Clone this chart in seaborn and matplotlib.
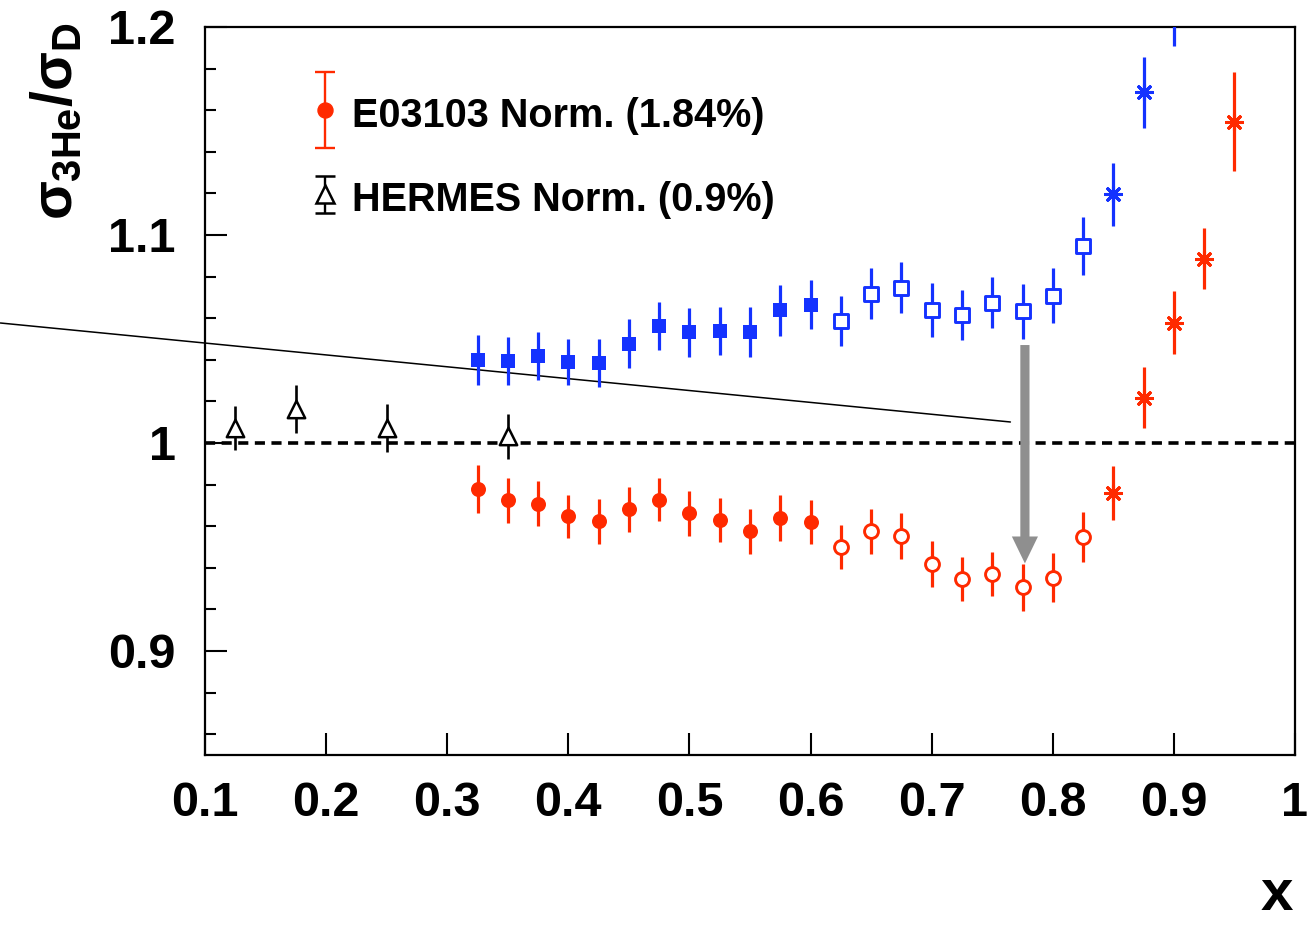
import numpy as np
import pandas as pd
import matplotlib
matplotlib.use("Agg")
import matplotlib.pyplot as plt
from matplotlib.ticker import MultipleLocator, FixedLocator, FuncFormatter
import seaborn as sns

# ---- data -------------------------------------------------------------
x_e03103 = [0.325, 0.35, 0.375, 0.40, 0.425, 0.45, 0.475, 0.50, 0.525, 0.55,
            0.575, 0.60, 0.625, 0.65, 0.675, 0.70, 0.725, 0.75, 0.775, 0.80,
            0.825, 0.85, 0.875, 0.90, 0.925, 0.95]

# corrected ratio (red)
ratio_corrected = [0.9777, 0.9724, 0.9708, 0.9648, 0.9623, 0.9681, 0.9727, 0.9663,
                   0.9629, 0.9575, 0.9641, 0.9620, 0.9499, 0.9576, 0.9553, 0.9418,
                   0.9344, 0.9371, 0.9306, 0.9352, 0.9547, 0.9760, 1.0217, 1.0578,
                   1.0886, 1.1544]
err_corrected = [0.0115, 0.0108, 0.0108, 0.0104, 0.0107, 0.0108, 0.0104, 0.0108,
                 0.0107, 0.0108, 0.0110, 0.0107, 0.0107, 0.0108, 0.0110, 0.0112,
                 0.0106, 0.0107, 0.0113, 0.0117, 0.0120, 0.0131, 0.0147, 0.0152,
                 0.0147, 0.0238]

# raw ratio (blue), measured up to x = 0.90
ratio_raw = [1.0397, 1.0394, 1.0418, 1.0391, 1.0384, 1.0478, 1.0561, 1.0533,
             1.0540, 1.0533, 1.0638, 1.0665, 1.0588, 1.0718, 1.0747, 1.0639,
             1.0614, 1.0675, 1.0633, 1.0709, 1.0948, 1.1195, 1.1686, 1.2120]
err_raw = [0.0120, 0.0116, 0.0115, 0.0111, 0.0115, 0.0116, 0.0115, 0.0118,
           0.0116, 0.0121, 0.0123, 0.0117, 0.0120, 0.0124, 0.0123, 0.0128,
           0.0121, 0.0122, 0.0131, 0.0133, 0.0140, 0.0152, 0.0171, 0.0210]

x_hermes = [0.125, 0.175, 0.25, 0.35]
ratio_hermes = [1.0072, 1.0162, 1.0072, 1.0033]
err_hermes = [0.0106, 0.0116, 0.0116, 0.0108]

norm_e03103 = 0.0184
norm_hermes = 0.009
legend_labels = ["E03103 Norm. (1.84%)", "HERMES Norm. (0.9%)"]
legend_x = 0.199
legend_y = [1.160, 1.1196]

trend_x = [-0.069, 0.765]
trend_y = [1.0577, 1.0101]
shift_x = 0.777
shift_y = [1.0471, 0.9421]

x_ticks = [0.1, 0.2, 0.3, 0.4, 0.5, 0.6, 0.7, 0.8, 0.9, 1.0]
y_ticks = [0.9, 1.0, 1.1, 1.2]

# ---- style ------------------------------------------------------------
sns.set_theme(style="ticks")
plt.rcParams["font.family"] = ["Liberation Sans", "DejaVu Sans"]
plt.rcParams["font.weight"] = "bold"
plt.rcParams["text.color"] = "black"
plt.rcParams["axes.labelcolor"] = "black"
plt.rcParams["xtick.color"] = "black"
plt.rcParams["ytick.color"] = "black"
plt.rcParams["mathtext.fontset"] = "custom"
plt.rcParams["mathtext.rm"] = "Liberation Sans:bold"
plt.rcParams["mathtext.it"] = "Liberation Sans:bold"
plt.rcParams["mathtext.bf"] = "Liberation Sans:bold"
plt.rcParams["mathtext.sf"] = "Liberation Sans:bold"

RED = "#FF2A00"
BLUE = "#1432FF"
GRAY = "#8F8F8F"

W, H = 1313, 925
fig = plt.figure(figsize=(W / 100, H / 100), dpi=100)
ax = fig.add_axes([205 / W, 1 - 755 / H, 1090 / W, 728 / H])
ax.set_facecolor("white")


def frame(x, y, e):
    df = pd.DataFrame({"x": x, "ratio": y, "err": e})
    df["kind"] = np.select([df["x"] <= 0.6, df["x"] <= 0.825], ["filled", "open"], "star")
    return df


def draw_series(df, color, sq):
    ax.errorbar(df["x"], df["ratio"], yerr=df["err"], fmt="none",
                ecolor=color, elinewidth=2.3, capsize=0, zorder=3)
    mk = "s" if sq else "o"
    filled = df[df["kind"] == "filled"]
    opened = df[df["kind"] == "open"]
    stars = df[df["kind"] == "star"]
    sns.scatterplot(data=filled, x="x", y="ratio", marker=mk,
                    s=(10.5 if sq else 10.8) ** 2, color=color, edgecolor=color,
                    linewidth=0, ax=ax, zorder=4, legend=False)
    sns.scatterplot(data=opened, x="x", y="ratio", marker=mk,
                    s=(10.3 if sq else 10.0) ** 2, facecolor="white", edgecolor=color,
                    linewidth=2.1, ax=ax, zorder=4, legend=False)
    sns.scatterplot(data=stars, x="x", y="ratio", marker=(8, 2, 0),
                    s=11.5 ** 2, color=color, linewidth=2.2, ax=ax, zorder=4,
                    legend=False)


draw_series(frame(x_e03103[:len(ratio_raw)], ratio_raw, err_raw), BLUE, True)
draw_series(frame(x_e03103, ratio_corrected, err_corrected), RED, False)

# HERMES points
ax.errorbar(x_hermes, ratio_hermes, yerr=err_hermes, fmt="none",
            ecolor="black", elinewidth=1.9, capsize=0, zorder=3)
sns.scatterplot(x=x_hermes, y=ratio_hermes, marker="^", s=12.5 ** 2,
                facecolor="white", edgecolor="black", linewidth=1.8,
                ax=ax, zorder=4, legend=False)

# unity reference
ax.axhline(1.0, color="black", lw=2.6, ls=(0, (2.8, 1.8)), zorder=2)

# straight line running out past the frame
ax.plot(trend_x, trend_y, color="black", lw=1.1, clip_on=False, zorder=2)

# shift arrow
ax.annotate("", xy=(shift_x, shift_y[1]), xytext=(shift_x, shift_y[0]),
            arrowprops=dict(arrowstyle="simple,head_width=0.94,head_length=0.97,tail_width=0.33",
                            color=GRAY, lw=0, shrinkA=0, shrinkB=0, mutation_scale=20),
            zorder=5)

# in-frame legend with normalisation bars
ax.errorbar([legend_x], [legend_y[0]], yerr=[norm_e03103], fmt="o", color=RED,
            ms=10.8, mec=RED, elinewidth=1.7, capsize=7, capthick=1.7, zorder=4)
ax.errorbar([legend_x], [legend_y[1]], yerr=[norm_hermes], fmt="^", color="black",
            ms=12.5, mfc="white", mec="black", mew=1.8, elinewidth=1.7, capsize=7,
            capthick=1.7, zorder=4)
ax.text(0.2214, legend_y[0] - 0.0082, legend_labels[0], fontsize=28.5,
        fontweight="bold", ha="left", va="baseline", color="black")
ax.text(0.2214, legend_y[1] - 0.0082, legend_labels[1], fontsize=28.5,
        fontweight="bold", ha="left", va="baseline", color="black")

# axes
ax.set_xlim(0.1, 1.0)
ax.set_ylim(0.85, 1.2)
ax.xaxis.set_major_locator(FixedLocator(x_ticks))
ax.yaxis.set_major_locator(FixedLocator(y_ticks))
ax.yaxis.set_minor_locator(MultipleLocator(0.02))
fmt = FuncFormatter(lambda v, p: f"{v:g}")
ax.xaxis.set_major_formatter(fmt)
ax.yaxis.set_major_formatter(fmt)
ax.tick_params(axis="both", which="major", direction="in", length=16, width=1.5,
               labelsize=35, colors="black")
ax.tick_params(axis="x", which="major", pad=19)
ax.tick_params(axis="y", which="major", pad=21)
ax.tick_params(axis="y", which="minor", direction="in", length=8, width=1.5)
ax.tick_params(axis="x", which="minor", bottom=False)
ax.tick_params(top=False, right=False)
for s in ax.spines.values():
    s.set_visible(True)
    s.set_color("black")
    s.set_linewidth(1.6)
ax.set_xlabel("")
ax.set_ylabel("")
ax.grid(False)

fig.text(57 / W, 1 - 22 / H, r"$\sigma_{\mathbf{3He}}/\sigma_{\mathbf{D}}$",
         rotation=90, ha="center", va="top", fontsize=41, color="black")
fig.text(1293 / W, 3 / H, "x", ha="right", va="bottom", fontsize=42,
         fontweight="bold", color="black")

fig.savefig("out.png", dpi=100, facecolor="white")
